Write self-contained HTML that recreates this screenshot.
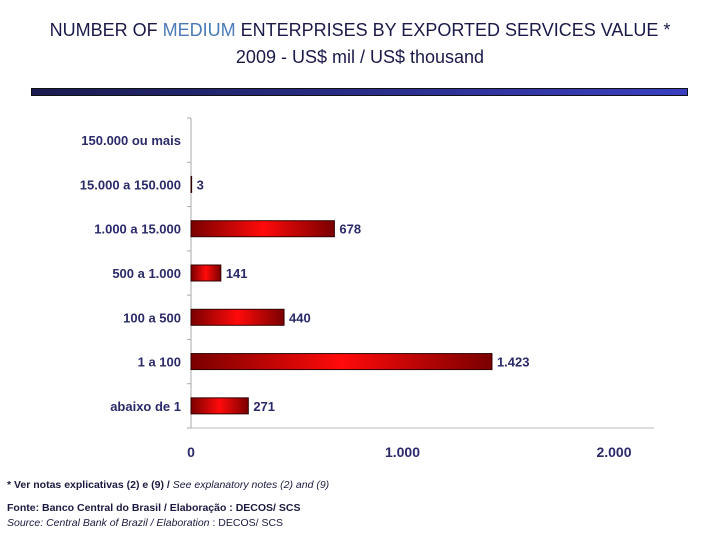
<!DOCTYPE html>
<html><head><meta charset="utf-8"><style>
body{margin:0;background:#fff;width:720px;height:540px;overflow:hidden;font-family:"Liberation Sans",sans-serif}
.t{position:absolute;left:0;width:720px;text-align:center;font-size:18px;color:#1a1a4a}
.n{position:absolute;left:7px;font-size:10.5px;color:#1a1a40}
</style></head><body>
<div class="t" style="top:20px">NUMBER OF <span style="color:#4a7ab8">MEDIUM</span> ENTERPRISES BY EXPORTED SERVICES VALUE *</div>
<div class="t" style="top:47px">2009 - US$ mil / US$ thousand</div>
<div style="position:absolute;left:31px;top:88px;width:655px;height:6px;background:linear-gradient(90deg,#1a1c50,#3a3fc0);border:1px solid #111"></div>
<svg id="c" width="720" height="540" style="position:absolute;left:0;top:0"></svg>
<div class="n" style="top:479px"><b>* Ver notas explicativas (2) e (9) /</b> <i>See explanatory notes (2) and (9)</i></div>
<div class="n" style="top:502px;font-weight:bold">Fonte: Banco Central do Brasil / Elaboração : DECOS/ SCS</div>
<div class="n" style="top:517px"><i>Source: Central Bank of Brazil / Elaboration</i> : DECOS/ SCS</div>
<script>
const categories=["150.000 ou mais","15.000 a 150.000","1.000 a 15.000","500 a 1.000","100 a 500","1 a 100","abaixo de 1"];
const values=[null,3,678,141,440,1423,271];
const valueLabels=["","3","678","141","440","1.423","271"];
const ticks=[0,1000,2000];
const tickLabels=["0","1.000","2.000"];
const NS="http://www.w3.org/2000/svg",svg=document.getElementById("c");
const x0=191,x1=614,yTop=118,yBot=428,maxV=2000;
const xs=v=>x0+(v/maxV)*(x1-x0);
const band=(yBot-yTop)/categories.length;
const ys=i=>yTop+band*(i+0.5);
function mk(t,a,txt){const e=document.createElementNS(NS,t);for(const k in a)e.setAttribute(k,a[k]);if(txt!=null)e.textContent=txt;svg.appendChild(e);return e;}
const d=document.createElementNS(NS,"defs");d.innerHTML='<linearGradient id="g" x1="0" x2="1" y1="0" y2="0"><stop offset="0" stop-color="#7a0000"/><stop offset="0.5" stop-color="#ff0a0a"/><stop offset="1" stop-color="#7a0000"/></linearGradient>';svg.appendChild(d);
let e=mk("line",{x1:x0,y1:yTop,x2:x0,y2:yBot,stroke:"#aaa"});


e=mk("line",{x1:x0,y1:yBot,x2:x1+40,y2:yBot,stroke:"#bbb"});


for(let i=0;i<=categories.length;i++){mk("line",{x1:x0-4,x2:x0,y1:yTop+band*i,y2:yTop+band*i,stroke:"#aaa"});}
categories.forEach((c,i)=>{
 e=mk("text",{x:x0-10,y:ys(i)+5,"text-anchor":"end","font-size":"13","font-weight":"bold",fill:"#2a2a6a"},c);
 
 
 const v=values[i];if(v==null)return;
 if(v>0){e=mk("rect",{x:x0,y:ys(i)-8,width:xs(v)-x0,height:16,fill:"url(#g)",stroke:"#300","stroke-width":"1"});
 
 }
 e=mk("text",{x:xs(v)+5,y:ys(i)+5,"font-size":"13","font-weight":"bold",fill:"#2a2a6a"},valueLabels[i]);
 
 
});
ticks.forEach((t,i)=>{e=mk("text",{x:xs(t),y:457,"text-anchor":"middle","font-size":"14","font-weight":"bold",fill:"#2a2a6a"},tickLabels[i]);
 
 });
</script>
</body></html>
